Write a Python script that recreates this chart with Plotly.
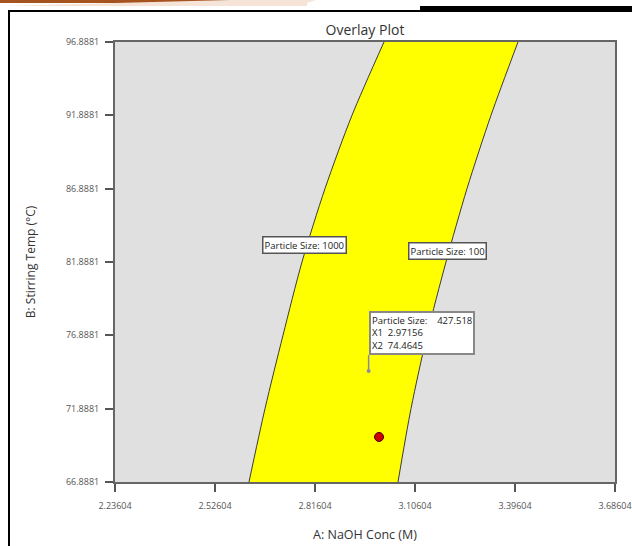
import plotly.graph_objects as go

# Stirring temperature levels (y) at which the contour boundaries are traced
stir_temp = [66.8881, 71.8881, 76.8881, 81.8881, 86.8881, 91.8881, 96.8881]
# NaOH concentration on the Particle Size = 1000 contour
naoh_ps1000 = [2.6246, 2.6710, 2.7232, 2.7783, 2.8450, 2.9233, 3.0161]
# NaOH concentration on the Particle Size = 100 contour
naoh_ps100 = [3.0567, 3.0944, 3.1408, 3.1959, 3.2568, 3.3264, 3.4047]

# Axis ticks
x_ticks = [2.23604, 2.52604, 2.81604, 3.10604, 3.39604, 3.68604]
x_tick_text = ["2.23604", "2.52604", "2.81604", "3.10604", "3.39604", "3.68604"]
y_ticks = [66.8881, 71.8881, 76.8881, 81.8881, 86.8881, 91.8881, 96.8881]
y_tick_text = ["66.8881", "71.8881", "76.8881", "81.8881", "86.8881", "91.8881", "96.8881"]

# Design points
flag_point = {"size": 427.518, "x1": 2.97156, "x2": 74.4645}
run_point = {"x1": 3.0017, "x2": 69.96}

# Contour label positions
label_1000 = {"text": "Particle Size: 1000", "x": 2.787, "y": 83.05}
label_100 = {"text": "Particle Size: 100", "x": 3.199, "y": 82.64}

FONT = "Open Sans"

fig = go.Figure()

fig.add_trace(go.Scatter(
    x=naoh_ps1000, y=stir_temp, mode="lines",
    line=dict(color="#3a3a3a", width=1, shape="spline", smoothing=0.8),
    hoverinfo="skip", showlegend=False,
))
fig.add_trace(go.Scatter(
    x=naoh_ps100, y=stir_temp, mode="lines",
    line=dict(color="#3a3a3a", width=1, shape="spline", smoothing=0.8),
    fill="tonextx", fillcolor="#ffff00",
    hoverinfo="skip", showlegend=False,
))

fig.add_trace(go.Scatter(
    x=[run_point["x1"]], y=[run_point["x2"]], mode="markers",
    marker=dict(size=9, color="#cc0000", line=dict(color="#4a0000", width=1)),
    showlegend=False,
))
fig.add_trace(go.Scatter(
    x=[flag_point["x1"]], y=[flag_point["x2"]], mode="markers",
    marker=dict(size=4, color="#8c8ca0"),
    showlegend=False,
))

label_style = dict(
    showarrow=False, bgcolor="white", bordercolor="#555555", borderwidth=1.5,
    borderpad=1, font=dict(family=FONT, size=9.5, color="#222222"),
)
annotations = [
    dict(x=label_1000["x"], y=label_1000["y"], text=label_1000["text"], **label_style),
    dict(x=label_100["x"], y=label_100["y"], text=label_100["text"], **label_style),
    dict(
        x=flag_point["x1"], y=flag_point["x2"],
        text=(f"Particle Size:    {flag_point['size']}<br>"
              f"X1  {flag_point['x1']}<br>X2  {flag_point['x2']}"),
        align="left", xanchor="left", yanchor="bottom",
        showarrow=True, arrowhead=0, arrowwidth=1.5, arrowcolor="#8c8ca0",
        ax=0, ay=-16,
        bgcolor="white", bordercolor="#888888", borderwidth=2, borderpad=1,
        font=dict(family=FONT, size=9.5, color="#222222"),
    ),
]

# Page decorations around the chart
shapes = [
    dict(type="rect", xref="paper", yref="paper", x0=-0.23, x1=0.384,
         y0=1.0886, y1=1.1, fillcolor="#a5531f", line_width=0, layer="above"),
    dict(type="path", xref="paper", yref="paper",
         path="M -0.23 1.0818 L 0.384 1.0818 L 0.384 1.0886 L 0.414 1.1 L 0.384 1.1 Z",
         fillcolor="#f6e4d8", line_width=0, layer="above"),
    dict(type="rect", xref="paper", yref="paper", x0=-0.214, x1=1.04,
         y0=1.0682, y1=1.0727, fillcolor="black", line_width=0, layer="above"),
    dict(type="rect", xref="paper", yref="paper", x0=0.61, x1=1.04,
         y0=1.0682, y1=1.0818, fillcolor="black", line_width=0, layer="above"),
    dict(type="rect", xref="paper", yref="paper", x0=-0.214, x1=-0.21,
         y0=-0.15, y1=1.0727, fillcolor="black", line_width=0, layer="above"),
]

axis_common = dict(
    showgrid=False, zeroline=False, showline=True, linecolor="#666666",
    linewidth=2, mirror=True, ticks="outside", ticklen=8, tickwidth=1.5,
    tickcolor="#555555", tickfont=dict(family=FONT, size=9, color="#555555"),
    automargin=False,
)

fig.update_layout(
    width=632, height=546,
    margin=dict(l=115, r=17, t=42, b=64),
    paper_bgcolor="white", plot_bgcolor="#e0e0e0",
    title=dict(text="Overlay Plot", x=0.5, xref="paper", y=1 - 30 / 546,
               yanchor="middle", font=dict(family=FONT, size=14, color="#333333")),
    xaxis=dict(
        range=[2.23604, 3.68604], tickvals=x_ticks, ticktext=x_tick_text,
        ticklabelstandoff=6,
        title=dict(text="A: NaOH Conc (M)", standoff=19,
                   font=dict(family=FONT, size=12.5, color="#333333")),
        **axis_common,
    ),
    yaxis=dict(
        range=[66.8881, 96.8881], tickvals=y_ticks, ticktext=y_tick_text,
        ticklabelstandoff=4,
        title=dict(text="B: Stirring Temp (°C)", standoff=28,
                   font=dict(family=FONT, size=12, color="#333333")),
        **axis_common,
    ),
    annotations=annotations,
    shapes=shapes,
)

fig.write_html("out.html")
